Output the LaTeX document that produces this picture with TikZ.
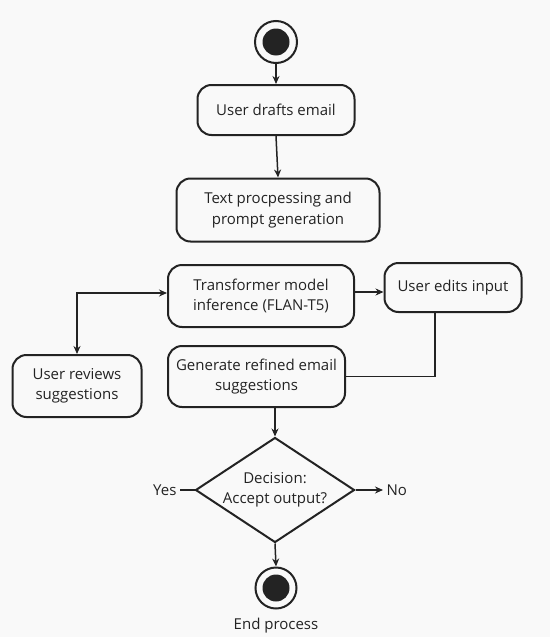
\documentclass[tikz,border=0pt]{standalone}
\usepackage{fontspec}
\setmainfont{Open Sans}
\usetikzlibrary{shapes.geometric,arrows.meta}
\definecolor{ink}{RGB}{35,35,35}
\definecolor{bg}{RGB}{249,249,249}
\begin{document}
\begin{tikzpicture}[x=1pt,y=-1pt,
  every node/.style={text=ink},
  txt/.style={font=\fontsize{15}{20.5}\selectfont, align=center},
  act/.style={txt, draw=ink, line width=2pt, rounded corners=14pt, inner sep=0pt},
  arr/.style={draw=ink, -{Stealth[length=8pt,width=7pt]}, line width=1.5pt},
  ln/.style={draw=ink, line width=1.5pt}]
\fill[bg] (0,0) rectangle (550,637);
\useasboundingbox (0,0) rectangle (550,637);

% start
\node[circle, draw=ink, line width=2pt, minimum size=42pt, inner sep=0pt] (start) at (276,42) {};
\node[circle, fill=ink, minimum size=27pt, inner sep=0pt] (startdot) at (start.center) {};

\node[act, minimum width=157pt, minimum height=50pt] (b1) at (276,110) {User drafts email};
\node[act, minimum width=203pt, minimum height=63pt] (b2) at (278,210) {Text procpessing and\\prompt generation};
\node[act, minimum width=186pt, minimum height=62pt] (b3) at (261,296) {Transformer model\\inference (FLAN-T5)};
\node[act, minimum width=137pt, minimum height=49pt] (b4) at (453,287.5) {User edits input};
\node[act, minimum width=129pt, minimum height=62pt] (b5) at (77,386) {User reviews\\suggestions};
\node[act, minimum width=177pt, minimum height=61pt] (b6) at (256.5,376.5) {Generate refined email\\suggestions};

\node[diamond, draw=ink, line width=2pt, minimum width=159pt, minimum height=105pt, inner sep=0pt] (dec) at (275,490) {};
\node[txt] (dectxt) at (dec.center) {Decision:\\Accept output?};
\node[txt, anchor=east] (yes) at (180,490) {Yes};
\node[txt, anchor=west] (no) at (383,490) {No};

\node[circle, draw=ink, line width=2pt, minimum size=41pt, inner sep=0pt] (end) at (276,588) {};
\node[circle, fill=ink, minimum size=27pt, inner sep=0pt] (enddot) at (end.center) {};
\node[txt] (endtxt) at (276,626) {End process};

% connectors
\draw[arr] (start.south) -- (b1.north);
\draw[arr] (b1.south) -- (b2.north);
\draw[arr] (b3.east |- {(0,292)}) -- (b4.west |- {(0,292)});
\draw[draw=ink, {Stealth[length=8pt,width=7pt]}-{Stealth[length=8pt,width=7pt]}, line width=1.5pt] (b3.west |- {(0,293)}) -| (b5.north);
\draw[ln] (b4.south -| {(435,0)}) |- (b6.east);
\draw[arr] (b6.south -| dec.north) -- (dec.north);
\draw[ln] (dec.west) -- (yes.east);
\draw[arr] (dec.east) -- (no.west);
\draw[arr] (dec.south) -- (end.north);
\end{tikzpicture}
\end{document}
